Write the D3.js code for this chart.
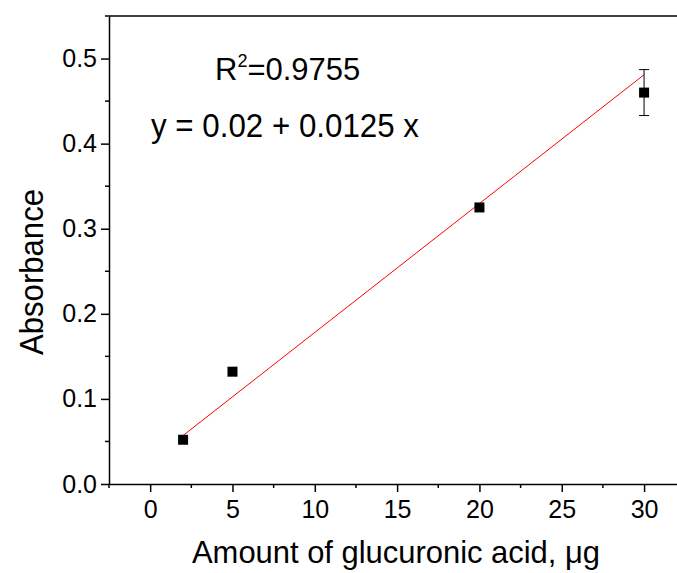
<!DOCTYPE html>
<html>
<head>
<meta charset="utf-8">
<script src="https://cdn.jsdelivr.net/npm/d3@7"></script>
<style>
  body { margin: 0; background: #fff; }
  svg { display: block; font-family: "Liberation Sans", Arial, sans-serif; }
  .axis path, .axis line { stroke: #000; stroke-width: 1.5; }
  .axis text { font-size: 25px; fill: #000; }
</style>
</head>
<body>
<svg id="chart" width="677" height="573"></svg>
<script>
// 标准曲线：葡萄糖醛酸用量 vs 吸光度

const amounts = [2, 5, 20, 30];
const absorbance = [0.052, 0.132, 0.325, 0.46];
const errors = [0, 0, 0, 0.027];

// 拟合线两端
const fitX = [2, 30];
const fitY = [0.057, 0.481];

const xTicks = [0, 5, 10, 15, 20, 25, 30];
const yTicks = [0.0, 0.1, 0.2, 0.3, 0.4, 0.5];
const xMinor = [-2.5, 2.5, 7.5, 12.5, 17.5, 22.5, 27.5];
const yMinor = [0.05, 0.15, 0.25, 0.35, 0.45, 0.55];

const rSquared = '0.9755';
const equation = 'y = 0.02 + 0.0125 x';

const svg = d3.select('#chart');
const plot = { left: 109, right: 677, top: 16, bottom: 484 };

const x = d3.scaleLinear().domain([-2.5, 32]).range([plot.left, plot.right]);
const y = d3.scaleLinear().domain([0, 0.55]).range([plot.bottom, plot.top]);

// 顶部边框线
svg.append('line')
  .attr('x1', plot.left).attr('x2', plot.right)
  .attr('y1', plot.top).attr('y2', plot.top)
  .attr('stroke', '#000').attr('stroke-width', 1.5);

const xAxis = svg.append('g')
  .attr('class', 'axis')
  .attr('transform', `translate(0,${plot.bottom})`)
  .call(d3.axisBottom(x).tickValues(xTicks).tickSize(8).tickSizeOuter(0).tickPadding(8).tickFormat(d3.format('d')));
xAxis.selectAll('.minor')
  .data(xMinor)
  .join('line')
  .attr('class', 'minor')
  .attr('x1', d => x(d)).attr('x2', d => x(d))
  .attr('y1', 0).attr('y2', 4);

const yAxis = svg.append('g')
  .attr('class', 'axis')
  .attr('transform', `translate(${plot.left},0)`)
  .call(d3.axisLeft(y).tickValues(yTicks).tickSize(8).tickSizeOuter(0).tickPadding(4).tickFormat(d3.format('.1f')));
yAxis.selectAll('.minor')
  .data(yMinor)
  .join('line')
  .attr('class', 'minor')
  .attr('x1', 0).attr('x2', -4)
  .attr('y1', d => y(d)).attr('y2', d => y(d));

// 拟合线
svg.append('line')
  .attr('x1', x(fitX[0])).attr('y1', y(fitY[0]))
  .attr('x2', x(fitX[1])).attr('y2', y(fitY[1]))
  .attr('stroke', '#ff0000').attr('stroke-width', 1);

// 误差线
const errData = amounts.map((a, i) => ({ a, v: absorbance[i], e: errors[i] })).filter(d => d.e > 0);
const errG = svg.append('g').attr('stroke', '#000').attr('stroke-width', 1);
errData.forEach(d => {
  errG.append('line')
    .attr('x1', x(d.a)).attr('x2', x(d.a))
    .attr('y1', y(d.v - d.e)).attr('y2', y(d.v + d.e));
  [d.v - d.e, d.v + d.e].forEach(v => {
    errG.append('line')
      .attr('x1', x(d.a) - 5).attr('x2', x(d.a) + 5)
      .attr('y1', y(v)).attr('y2', y(v));
  });
});

// 数据点
svg.append('g')
  .selectAll('rect')
  .data(amounts)
  .join('rect')
  .attr('x', d => x(d) - 5)
  .attr('y', (d, i) => y(absorbance[i]) - 5)
  .attr('width', 10)
  .attr('height', 10)
  .attr('fill', '#000');

// 注释文字
const r2 = svg.append('text')
  .attr('x', 215).attr('y', 80)
  .attr('font-size', 31);
r2.append('tspan').text('R');
r2.append('tspan').attr('font-size', 18).attr('dy', -13).text('2');
r2.append('tspan').attr('dy', 13).text('=' + rSquared);

svg.append('text')
  .attr('x', 151).attr('y', 137)
  .attr('font-size', 33)
  .attr('textLength', 268)
  .attr('lengthAdjust', 'spacingAndGlyphs')
  .text(equation);

// 轴标题
svg.append('text')
  .attr('transform', 'translate(43,272) rotate(-90)')
  .attr('text-anchor', 'middle')
  .attr('font-size', 33)
  .attr('textLength', 166)
  .attr('lengthAdjust', 'spacingAndGlyphs')
  .text('Absorbance');

svg.append('text')
  .attr('x', 396).attr('y', 563)
  .attr('text-anchor', 'middle')
  .attr('font-size', 32)
  .attr('textLength', 408)
  .attr('lengthAdjust', 'spacingAndGlyphs')
  .text('Amount of glucuronic acid, μg');
</script>
</body>
</html>
